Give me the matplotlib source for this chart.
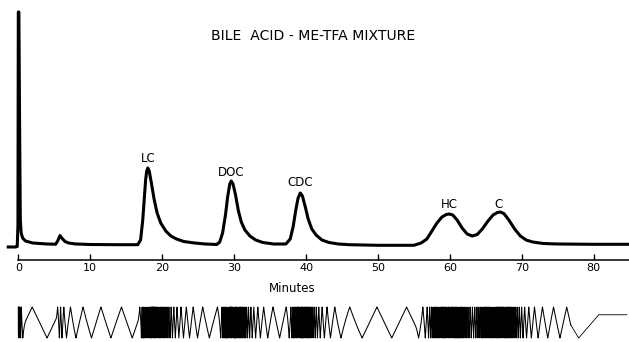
import numpy as np
import matplotlib.pyplot as plt

plt.rcParams['font.family'] = ['DejaVu Sans']

# chromatogram trace (minutes, detector response)
time_min = [-1.4, -0.4, -0.15, -0.05, 0.0, 0.08, 0.18, 0.28, 0.4, 0.6, 1.0, 1.5, 2.0, 3.0, 4.0,
            5.2, 5.5, 5.8, 6.1, 6.5, 7.0, 8.0, 10.0, 14.0, 16.6,
            17.0, 17.3, 17.5, 17.7, 17.85, 18.0, 18.2, 18.5, 18.9, 19.3, 19.8, 20.5, 21.2, 22.0,
            23.0, 24.5, 26.0, 27.6,
            28.0, 28.4, 28.8, 29.1, 29.4, 29.6, 29.85, 30.2, 30.6, 31.0, 31.5, 32.2, 33.0, 34.0,
            35.5, 37.2,
            37.8, 38.2, 38.6, 38.9, 39.2, 39.5, 39.9, 40.3, 40.8, 41.4, 42.2, 43.2, 44.5, 46.0,
            50.0, 55.0,
            56.0, 56.8, 57.5, 58.2, 58.9, 59.5, 59.9, 60.4, 61.0, 61.7, 62.4, 63.1, 63.8, 64.5,
            65.3, 66.0, 66.6, 67.0, 67.5, 68.2, 69.0, 69.8, 70.6, 71.5, 73.0, 75.0, 80.0, 85.0]
signal = [-2, -2, -1.5, 20, 233, 233, 120, 25, 12, 7, 4, 3, 2, 1.5, 1,
          0.8, 4.5, 9.5, 6.5, 3.5, 2, 1, 0.5, 0.3, 0.3,
          5, 25, 45, 65, 74, 77, 74, 62, 45, 32, 22, 14, 9, 6,
          3.5, 2, 1, 0.5,
          3, 12, 30, 48, 61, 64, 61, 50, 34, 23, 15, 9, 5, 2.5,
          1, 1,
          6, 18, 36, 47, 52, 49, 38, 26, 16, 10, 5, 2.5, 1, 0.3,
          -0.3, -0.3,
          2, 6, 14, 22, 28, 30.5, 31, 30, 25, 17, 11, 9, 10.5, 16,
          24, 30, 32.5, 33, 31.5, 25, 16, 9, 5, 3, 1.5, 1, 0.7, 0.7]

peak_names = ['LC', 'DOC', 'CDC', 'HC', 'C']
peak_times = [18.0, 29.6, 39.2, 59.9, 66.8]
label_levels = [86, 73, 63, 41, 41]
x_ticks = [0, 10, 20, 30, 40, 50, 60, 70, 80]

# disc integrator: pen strokes follow the running area above the integrator zero
integ_zero_t = [0.4, 0.7, 5.3, 5.5]
integ_zero_v = [0, 4, 1, 0]
integ_offset = 0.8
integ_period = 3.3
integ_end = 76.8
# pen after the run stops
tail_t = [77.9, 80.7, 84.6]
tail_pen = [0.0, 0.75, 0.75]

fig = plt.figure(figsize=(6.29, 3.42), dpi=100)
ax = fig.add_axes([0, 1 - 260 / 342, 1, 260 / 342])
ax.plot(time_min, signal, color='black', lw=2.2, solid_joinstyle='round')
ax.set_xlim(-2.545, 84.9)
ax.set_ylim(-15, 245)

for sp in ['top', 'right', 'left']:
    ax.spines[sp].set_visible(False)
ax.spines['bottom'].set_bounds(0, 84.9)
ax.spines['bottom'].set_linewidth(1.1)
ax.set_yticks([])
ax.set_xticks(x_ticks)
ax.tick_params(axis='x', direction='in', length=4, width=1.0, pad=2, labelsize=8)

for name, t, lv in zip(peak_names, peak_times, label_levels):
    ax.text(t, lv, name, ha='center', va='center', fontsize=8.5)

ax.text(41.0, 209, 'BILE  ACID - ME-TFA MIXTURE', ha='center', va='center', fontsize=10.1)
fig.text(292 / 629, 1 - 288 / 342, 'Minutes', ha='center', va='center', fontsize=8.5)

# integrator trace
ax2 = fig.add_axes([0, 0, 1, 42 / 342])
tt = np.linspace(0, integ_end, 60000)
zero = np.interp(tt, integ_zero_t, integ_zero_v)
rate = np.maximum(np.interp(tt, time_min, signal) - zero, 0) + integ_offset
phase = np.concatenate([[0], np.cumsum(rate[1:] * np.diff(tt))]) / integ_period
pen = np.abs((phase * 2) % 2 - 1)
ax2.plot(tt, pen, color='black', lw=0.75)
ax2.plot([integ_end] + tail_t, [pen[-1]] + tail_pen, color='black', lw=0.6)
ax2.set_xlim(-2.545, 84.9)
ax2.set_ylim(-0.129, 1.226)
ax2.axis('off')

fig.savefig('out.png', dpi=100)
